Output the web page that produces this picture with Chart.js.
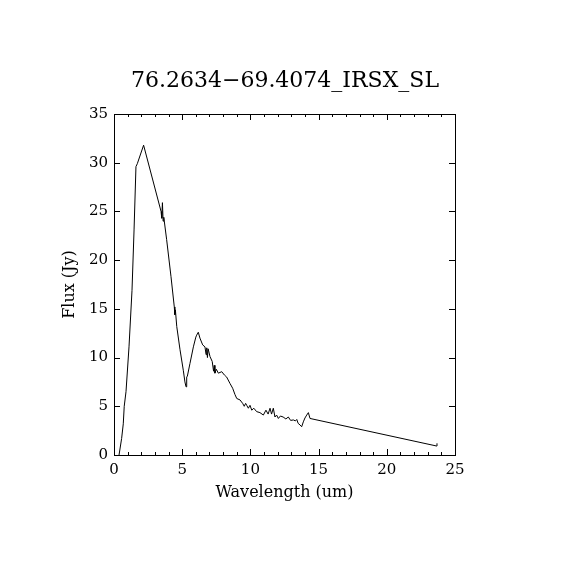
<!DOCTYPE html>
<html>
<head>
<meta charset="utf-8">
<title>76.2634-69.4074_IRSX_SL</title>
<script src="https://cdn.jsdelivr.net/npm/chart.js@4/dist/chart.umd.min.js"></script>
<style>
  html, body { margin: 0; padding: 0; background: #fff; }
  #wrap { width: 570px; height: 570px; }
</style>
</head>
<body>
<div id="wrap"><canvas id="spec" width="570" height="570"></canvas></div>
<script>
// spectrum
const wavelength = [
  0.37, 0.56, 0.68, 0.75, 0.88, 1.1, 1.32, 1.47, 1.61, 1.71,
  2.17, 3.45, 3.5, 3.55, 3.6, 3.65, 3.86, 4.18, 4.42, 4.46,
  4.5, 4.6, 4.84, 5.08, 5.2, 5.28, 5.33, 5.38, 5.57, 5.82,
  6.0, 6.06, 6.18, 6.3, 6.5, 6.67, 6.75, 6.8, 6.85, 6.9,
  7.04, 7.2, 7.3, 7.35, 7.4, 7.5, 7.65, 7.9, 8.1, 8.26,
  8.5, 8.7, 8.87, 9.0, 9.24, 9.43, 9.55, 9.65, 9.73, 9.85,
  9.97, 10.1, 10.25, 10.46, 10.7, 10.95, 11.14, 11.3, 11.44, 11.55,
  11.68, 11.8, 11.92, 12.05, 12.2, 12.4, 12.6, 12.78, 12.95, 13.15,
  13.3, 13.4, 13.5, 13.64, 13.76, 13.88, 14.0, 14.13, 14.25, 14.37,
  23.66, 23.68
];
const flux = [
  0.0, 1.7, 3.2, 5.0, 6.5, 11.1, 16.9, 23.1, 29.6, 29.9,
  31.8, 25.0, 24.3, 25.9, 24.0, 24.4, 22.1, 18.3, 15.2, 14.4,
  14.9, 13.2, 10.8, 8.7, 7.5, 7.0, 8.0, 8.1, 9.4, 11.1,
  12.1, 12.3, 12.6, 12.0, 11.3, 11.1, 10.3, 11.0, 10.0, 10.9,
  10.1, 9.6, 8.6, 9.2, 8.4, 8.8, 8.4, 8.55, 8.2, 8.0,
  7.35, 6.85, 6.2, 5.8, 5.65, 5.3, 5.0, 5.3, 5.1, 4.8,
  5.1, 4.6, 4.8, 4.45, 4.35, 4.1, 4.6, 4.2, 4.8, 4.2,
  4.8, 3.9, 4.1, 3.75, 4.0, 3.9, 3.7, 3.9, 3.55, 3.6,
  3.5, 3.65, 3.25, 3.08, 2.9, 3.4, 3.8, 4.1, 4.35, 3.75,
  0.92, 1.2
];

const xRange = [0, 25];
const yRange = [0, 35];
const xMajor = 5;
const xMinor = 1;
const yMajor = 5;

const points = wavelength.map((w, i) => ({ x: w, y: flux[i] }));

Chart.defaults.font.family = "'DejaVu Serif', 'Liberation Serif', serif";
Chart.defaults.color = '#000';

// box round the plot, ticks pointing inward on all four sides
const frameTicks = {
  id: 'frameTicks',
  afterDraw(chart) {
    const { ctx, chartArea: a, scales: { x, y } } = chart;
    ctx.save();
    ctx.strokeStyle = '#000';
    ctx.lineWidth = 1;
    ctx.strokeRect(Math.round(a.left) + 0.5, Math.round(a.top) + 0.5,
                   Math.round(a.right - a.left), Math.round(a.bottom - a.top));
    ctx.beginPath();
    for (let v = xRange[0]; v <= xRange[1]; v += xMinor) {
      const px = Math.round(x.getPixelForValue(v)) + 0.5;
      const len = v % xMajor === 0 ? 6 : 3;
      ctx.moveTo(px, a.bottom); ctx.lineTo(px, a.bottom - len);
      ctx.moveTo(px, a.top); ctx.lineTo(px, a.top + len);
    }
    for (let v = yRange[0]; v <= yRange[1]; v += yMajor) {
      const py = Math.round(y.getPixelForValue(v)) + 0.5;
      ctx.moveTo(a.left, py); ctx.lineTo(a.left + 6, py);
      ctx.moveTo(a.right, py); ctx.lineTo(a.right - 6, py);
    }
    ctx.stroke();
    ctx.restore();
  }
};

new Chart(document.getElementById('spec'), {
  type: 'scatter',
  data: {
    datasets: [{
      data: points,
      showLine: true,
      borderColor: '#000',
      borderWidth: 1,
      pointRadius: 0,
      tension: 0
    }]
  },
  options: {
    responsive: false,
    animation: false,
    devicePixelRatio: 1,
    layout: { padding: 0 },
    plugins: {
      legend: { display: false },
      tooltip: { enabled: false },
      title: {
        display: true,
        text: '76.2634\u221269.4074_IRSX_SL',
        font: { size: 22, weight: 'normal' },
        color: '#000',
        padding: { top: 68, bottom: 19.6 }
      }
    },
    scales: {
      x: {
        type: 'linear',
        min: xRange[0],
        max: xRange[1],
        grid: { display: false, drawTicks: false },
        border: { display: false },
        ticks: { stepSize: xMajor, padding: 6, font: { size: 15 }, maxRotation: 0 },
        title: {
          display: true,
          text: 'Wavelength (um)',
          font: { size: 16 },
          padding: { top: 0, bottom: 68 }
        },
        afterFit(scale) { scale.height = 115; }
      },
      y: {
        min: yRange[0],
        max: yRange[1],
        grid: { display: false, drawTicks: false },
        border: { display: false },
        ticks: { stepSize: yMajor, padding: 6, font: { size: 15 } },
        title: {
          display: true,
          text: 'Flux (Jy)',
          font: { size: 16 },
          padding: { top: 60, bottom: 0 }
        },
        afterFit(scale) { scale.width = 114; }
      },
      // empty right-hand axis, only keeps the margin so the title stays centred on the page
      yRight: {
        position: 'right',
        min: yRange[0],
        max: yRange[1],
        grid: { display: false, drawTicks: false },
        border: { display: false },
        ticks: { display: false },
        afterFit(scale) { scale.width = 115; }
      }
    }
  },
  plugins: [frameTicks]
});
</script>
</body>
</html>
